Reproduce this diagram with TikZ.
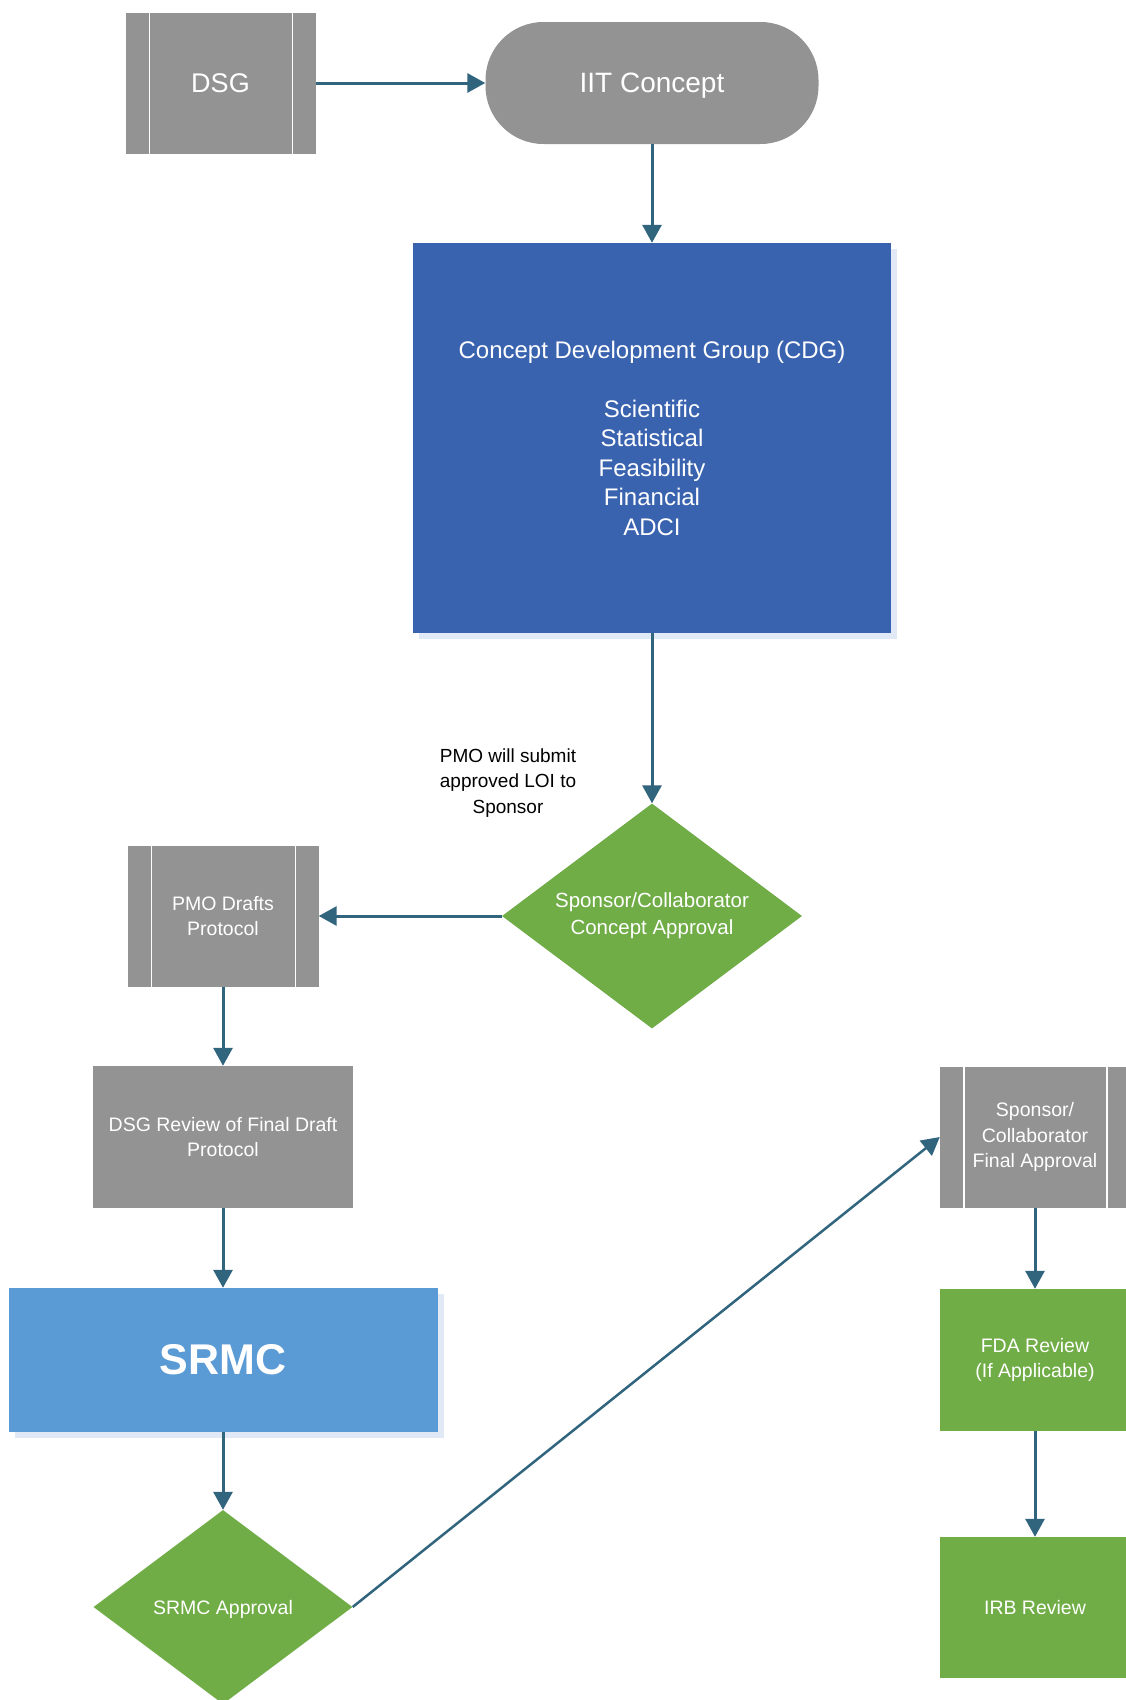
\documentclass[tikz,border=0pt]{standalone}
\usepackage{fontspec}
\setmainfont{Liberation Sans}
\usetikzlibrary{arrows.meta,shapes.geometric}
\definecolor{grayc}{RGB}{147,147,147}
\definecolor{cdgblue}{RGB}{58,99,175}
\definecolor{srmcblue}{RGB}{91,155,213}
\definecolor{greenc}{RGB}{112,173,71}
\definecolor{arrowc}{RGB}{49,101,126}
\definecolor{shadowc}{RGB}{226,233,246}
\newcommand{\fsz}[2]{\fontsize{#1}{#2}\selectfont}
\begin{document}
\begin{tikzpicture}[x=1pt,y=-1pt,
  box/.style={inner sep=0pt, align=center, text=white, font=\fsz{19.5}{25.5}},
  sub/.style={box, fill=grayc, minimum width=190pt, minimum height=141pt,
    path picture={\draw[white,line width=1.8pt]
      ([xshift=24pt]path picture bounding box.north west) -- ([xshift=24pt]path picture bounding box.south west)
      ([xshift=-23pt]path picture bounding box.north east) -- ([xshift=-23pt]path picture bounding box.south east);}},
  grect/.style={box, fill=grayc, minimum width=260pt, minimum height=142pt},
  grn/.style={box, fill=greenc, minimum width=190pt, minimum height=142pt},
  dia/.style={box, diamond, fill=greenc, aspect=1.33},
  conn/.style={draw=arrowc, line width=3pt, -{Triangle[width=19pt,length=18pt]}},
  note/.style={inner sep=0pt, align=center, text=black, font=\fsz{19}{25.5}}
]
\clip (0,0) rectangle (1126,1700);
\fill[white] (0,0) rectangle (1126,1700);

\node[sub, font=\fsz{27}{32}] (dsg) at (220.5,83) {DSG};
\node[box, fill=grayc, rounded corners=58pt, minimum width=333pt, minimum height=122pt,
      font=\fsz{28}{32}, text depth=0pt] (iit) at (652,83) {IIT Concept};

\fill[shadowc] (419,249) rectangle (897,639);
\node[box, fill=cdgblue, minimum width=478pt, minimum height=390pt, font=\fsz{24}{29.5}]
  (cdg) at (652,438) {Concept Development Group (CDG)\\[29.5pt]Scientific\\Statistical\\Feasibility\\Financial\\ADCI};

\node[note] (lbl) at (508,783) {PMO will submit\\approved LOI to\\Sponsor};

\node[dia, minimum width=300pt, minimum height=225pt, font=\fsz{20.5}{27}]
  (sca) at (652,916) {Sponsor/Collaborator\\Concept Approval};

\node[sub, minimum width=191pt] (pmo) at (223,916) {PMO Drafts\\Protocol};
\node[grect] (dsgr) at (223,1137) {DSG Review of Final Draft\\Protocol};

\fill[shadowc] (15,1294) rectangle (444,1438);
\node[box, fill=srmcblue, minimum width=429pt, minimum height=144pt,
      font=\bfseries\fsz{43}{48}] (srmc) at (223,1360) {SRMC};

\node[dia, minimum width=259pt, minimum height=194pt, text depth=0pt] (sa) at (223,1607) {SRMC Approval};

\node[sub] (fin) at (1035,1137) {Sponsor/\\Collaborator\\Final Approval};
\node[grn] (fda) at (1035,1360) {FDA Review\\(If Applicable)};
\node[grn, minimum height=141pt] (irb) at (1035,1607.5) {IRB Review};

\draw[conn] (dsg.east) -- (iit.west);
\draw[conn] (iit.south) -- (cdg.north);
\draw[conn] (cdg.south) -- (sca.north);
\draw[conn] (sca.west) -- (pmo.east);
\draw[conn] (pmo.south) -- (dsgr.north);
\draw[conn] (dsgr.south) -- (srmc.north);
\draw[conn] (srmc.south) -- (sa.north);
\draw[conn, line width=2.5pt] (sa.east) -- (fin.west);
\draw[conn] (fin.south) -- (fda.north);
\draw[conn] (fda.south) -- (irb.north);
\end{tikzpicture}
\end{document}
